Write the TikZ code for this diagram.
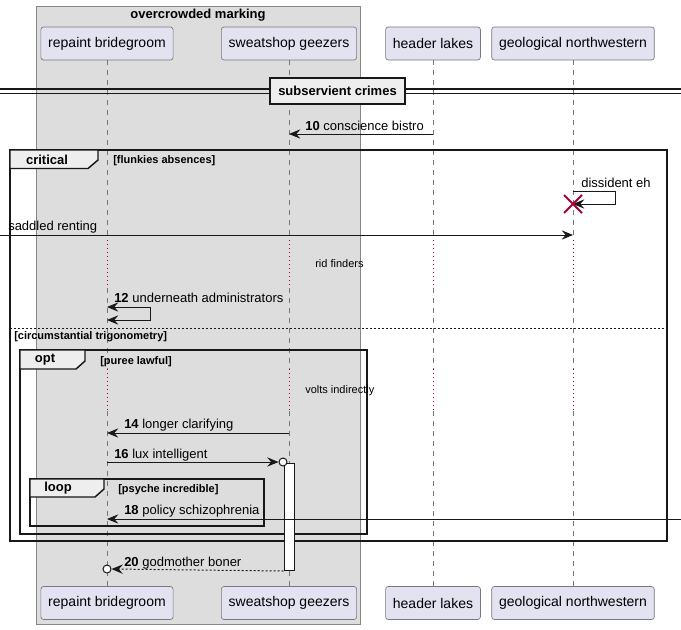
\documentclass[tikz,border=0pt]{standalone}
\usepackage{fontspec}
\setmainfont{Liberation Sans}
\usepackage{tikz}
\usetikzlibrary{arrows.meta, positioning, calc}
\definecolor{boxgray}{RGB}{221,221,221}
\definecolor{boxline}{RGB}{135,135,135}
\definecolor{partfill}{RGB}{226,226,240}
\definecolor{partline}{RGB}{120,120,130}
\definecolor{lifegray}{RGB}{120,120,120}
\definecolor{delayred}{RGB}{168,0,54}
\definecolor{tabfill}{RGB}{238,238,238}
\definecolor{ink}{RGB}{24,24,24}
\tikzset{
  partbox/.style={rectangle, draw=partline, fill=partfill,
    rounded corners=2pt, line width=0.5pt, minimum height=24.75pt,
    inner xsep=5.5pt, font=\fontsize{10.5}{12}\selectfont},
  lifeline/.style={draw=lifegray, dash pattern=on 3.75pt off 3.75pt, line width=0.5pt},
  delayline/.style={draw=delayred, dash pattern=on 0.75pt off 2.25pt, line width=0.7pt},
  tip/.style={Stealth[length=8.5pt,width=7pt,inset=3pt]},
  msg/.style={-{Stealth[length=8.5pt,width=7pt,inset=3pt]}, draw=ink, line width=0.75pt},
  bimsg/.style={{Stealth[length=8.5pt,width=7pt,inset=3pt]}-{Stealth[length=8.5pt,width=7pt,inset=3pt]},
    draw=ink, line width=0.75pt},
  retmsg/.style={msg, dash pattern=on 1.5pt off 1.5pt},
  msglabel/.style={anchor=base west, inner sep=0pt, font=\fontsize{9.75}{11}\selectfont},
  guard/.style={anchor=base west, inner sep=0pt, font=\fontsize{8.25}{10}\selectfont\bfseries},
  delaytext/.style={anchor=west, inner sep=0pt, font=\fontsize{8.25}{10}\selectfont},
  fragline/.style={draw=ink, line width=1.1pt},
  tabshape/.style={fill=tabfill, draw=ink, line width=1.1pt},
  tablabel/.style={inner sep=0pt, font=\fontsize{9.75}{11}\selectfont\bfseries},
  divbox/.style={rectangle, draw=ink, fill=tabfill, line width=1.1pt,
    minimum width=101.25pt, minimum height=19.5pt, font=\fontsize{9.75}{11}\selectfont\bfseries},
  lollipop/.style={circle, draw=ink, fill=white, line width=0.75pt,
    minimum size=6pt, inner sep=0pt},
  actbar/.style={rectangle, draw=ink, fill=white, line width=0.75pt,
    minimum width=7.5pt, inner sep=0pt, anchor=north}
}

\begin{document}
\begin{tikzpicture}[x=0.75pt, y=-0.75pt]
  \useasboundingbox (0,0) rectangle (681,629);

  % Box round the first two participants
  \filldraw[fill=boxgray, draw=boxline, line width=0.6pt] (36,6) rectangle (360,624);
  \node[tablabel] (boxtitle) at (198,15) {overcrowded marking};

  % Participants
  \node[partbox] (rbT) at (107,43.5) {repaint bridegroom};
  \node[partbox] (sgT) at (289,43.5) {sweatshop geezers};
  \node[partbox] (hlT) at (433,43.5) {header lakes};
  \node[partbox] (gnT) at (573,43.5) {geological northwestern};
  \node[partbox] (rbB) at (107,603) {repaint bridegroom};
  \node[partbox] (sgB) at (289,603) {sweatshop geezers};
  \node[partbox] (hlB) at (433,603) {header lakes};
  \node[partbox] (gnB) at (573,603) {geological northwestern};

  % Lifelines, with the two delays
  \foreach \p in {rb,sg,hl,gn} {
    \draw[lifeline] (\p T.south) -- (\p T.south |- 0,240);
    \draw[delayline] (\p T.south |- 0,240) -- (\p T.south |- 0,288);
    \draw[lifeline] (\p T.south |- 0,288) -- (\p T.south |- 0,369);
    \draw[delayline] (\p T.south |- 0,369) -- (\p T.south |- 0,411);
    \draw[lifeline] (\p T.south |- 0,411) -- (\p B.north);
  }

  % Divider
  \draw[ink, line width=0.9pt] (0,89) -- (681,89);
  \draw[ink, line width=0.9pt] (0,93.5) -- (681,93.5);
  \node[divbox] (div) at (337.5,91) {subservient crimes};

  % 10
  \draw[msg] (hlT.south |- 0,134) -- (sgT.south |- 0,134);
  \node[msglabel] (l10) at (305,130.5) {\textbf{10} conscience bistro};

  % critical frame
  \draw[fragline] (10,150) rectangle (667,541);
  \draw[tabshape] (10,150) -- (98,150) -- (98,160) -- (88,168.5) -- (10,168.5) -- cycle;
  \node[tablabel] (crit) at (47,159.5) {critical};
  \node[guard] (g1) at (113,163) {[flunkies absences]};

  \draw[msg] (gnT.south |- 0,191) -- (615,191) -- (615,204) -- (gnT.south |- 0,204);
  \node[msglabel] (ldis) at (581,187.5) {dissident eh};
  \draw[delayred, line width=1.5pt] (564,195) -- (582,213) (564,213) -- (582,195);

  \coordinate (lft) at (0,235);
  \draw[msg] (lft) -- (gnT.south |- lft);
  \node[msglabel] (lsad) at (8,230.5) {saddled renting};

  \node[delaytext] (d1) at (315,264) {rid finders};

  % 12
  \draw[bimsg] (rbT.south |- 0,307) -- (150,307) -- (150,320) -- (rbT.south |- 0,320);
  \node[msglabel] (l12) at (114,302.5) {\textbf{12} underneath administrators};

  % else
  \draw[ink, dash pattern=on 1.5pt off 1.5pt, line width=0.75pt] (10,328) -- (667,328);
  \node[guard] (g2) at (14,339) {[circumstantial trigonometry]};

  % opt frame
  \draw[fragline] (20,350) rectangle (367,534);
  \draw[tabshape] (20,350) -- (85,350) -- (85,361) -- (76,369) -- (20,369) -- cycle;
  \node[tablabel] (optl) at (45,359.5) {opt};
  \node[guard] (g3) at (100,364) {[puree lawful]};

  \node[delaytext] (d2) at (305,391) {volts indirectly};

  % 14
  \draw[msg] (sgT.south |- 0,433) -- (rbT.south |- 0,433);
  \node[msglabel] (l14) at (124,428.5) {\textbf{14} longer clarifying};

  % 16 and activation
  \node[actbar, minimum height=80.25pt] (act) at (289,463) {};
  \node[lollipop] (c16) at (283,462) {};
  \draw[msg] (rbT.south |- c16.west) -- (c16.west);
  \node[msglabel] (l16) at (114,458.5) {\textbf{16} lux intelligent};

  % loop frame
  \draw[fragline] (30,479) rectangle (264,526);
  \draw[tabshape] (30,479) -- (104,479) -- (104,489) -- (95,497) -- (30,497) -- cycle;
  \node[tablabel] (loopl) at (58,488) {loop};
  \node[guard] (g4) at (118,492) {[psyche incredible]};

  % 18
  \coordinate (rgt) at (681,519);
  \draw[msg] (rgt) -- (rbT.south |- rgt);
  \node[msglabel] (l18) at (124,514.5) {\textbf{18} policy schizophrenia};

  % 20
  \node[lollipop] (c20) at (107,569) {};
  \draw[retmsg] (act.south west) -- (c20.east);
  \node[msglabel] (l20) at (124,566) {\textbf{20} godmother boner};

\end{tikzpicture}
\end{document}
